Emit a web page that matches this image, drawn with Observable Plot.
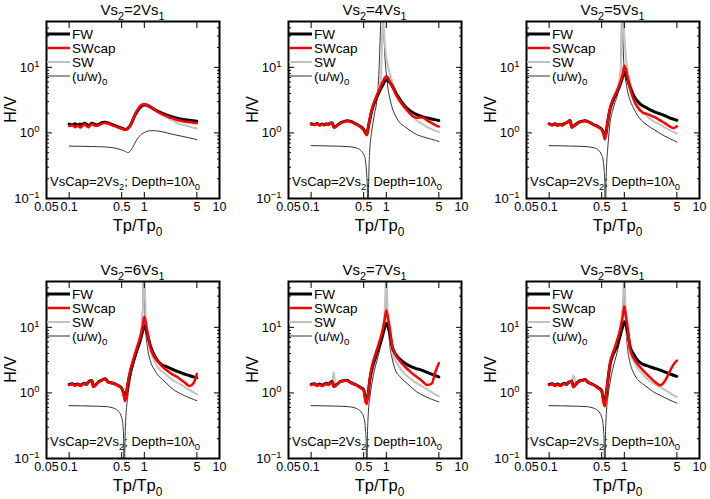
<!DOCTYPE html>
<html><head><meta charset="utf-8">
<script src="https://cdn.jsdelivr.net/npm/d3@7"></script>
<script src="https://cdn.jsdelivr.net/npm/@observablehq/plot@0.6"></script>
<style>
html,body{margin:0;padding:0;background:#fff;}
#chart{position:relative;width:710px;height:499px;overflow:hidden;background:#fff;}
#chart svg{position:absolute;overflow:visible;}
</style></head><body><div id="chart"></div>
<script>
// ---------- data ----------
const ratios = [2, 4, 5, 6, 7, 8];

const tp = [0.1,0.11,0.12,0.13,0.14,0.15,0.16,0.17,0.18,0.19,
            0.2,0.21,0.23,0.25,0.28,0.3,0.33,0.36,0.4,0.45,
            0.5,0.53,0.55,0.57,0.6,0.65,0.7,0.75,0.8,0.85,
            0.9,0.95,1.0,1.05,1.1,1.2,1.35,1.5,1.75,2,
            2.25,2.5,2.75,3,3.5,4,4.5,5];

const tpU = [0.1,0.2,0.3,0.4,0.45,0.5,0.52,0.53,0.54,0.55,
             0.56,0.57,0.58,0.6,0.65,0.7,0.75,0.8,0.84,0.87,
             0.9,0.93,0.96,0.98,1.0,1.02,1.05,1.1,1.2,1.35,
             1.5,1.75,2,2.5,3,4,5];

// Vs2 = 2Vs1
const fw_2 = [1.36,1.33,1.38,1.31,1.37,1.34,1.40,1.36,1.30,1.34,
              1.40,1.38,1.32,1.36,1.44,1.45,1.42,1.36,1.30,1.23,
              1.18,1.15,1.13,1.13,1.17,1.30,1.55,1.85,2.10,2.32,
              2.50,2.62,2.66,2.66,2.62,2.50,2.30,2.15,1.98,1.86,
              1.78,1.72,1.67,1.63,1.59,1.56,1.53,1.51];
const swcap_2 = [1.27,1.31,1.22,1.30,1.21,1.28,1.36,1.27,1.22,1.30,
                 1.37,1.33,1.27,1.32,1.40,1.42,1.39,1.33,1.27,1.21,
                 1.16,1.13,1.12,1.12,1.16,1.30,1.57,1.90,2.20,2.45,
                 2.62,2.72,2.74,2.72,2.66,2.50,2.28,2.10,1.92,1.80,
                 1.70,1.63,1.57,1.53,1.48,1.45,1.43,1.41];
const sw_2 = [1.33,1.32,1.33,1.31,1.32,1.33,1.37,1.33,1.28,1.32,
              1.38,1.36,1.31,1.34,1.42,1.44,1.41,1.35,1.29,1.22,
              1.17,1.14,1.12,1.12,1.16,1.30,1.57,1.90,2.20,2.48,
              2.68,2.78,2.80,2.76,2.68,2.50,2.25,2.05,1.84,1.70,
              1.58,1.49,1.42,1.36,1.30,1.25,1.20,1.17];
const uw_2 = [0.63,0.62,0.61,0.59,0.57,0.55,0.54,0.535,0.53,0.525,
              0.52,0.515,0.51,0.50,0.53,0.60,0.70,0.80,0.86,0.90,
              0.94,0.97,0.99,1.00,1.01,1.02,1.04,1.06,1.08,1.08,
              1.07,1.04,1.00,0.94,0.90,0.84,0.79];

// Vs2 = 4Vs1
const fw_4 = [1.38,1.34,1.39,1.32,1.37,1.33,1.38,1.35,1.41,1.43,
              1.24,1.25,1.35,1.44,1.50,1.53,1.51,1.45,1.36,1.26,
              1.13,1.00,0.95,1.15,1.55,2.30,2.95,3.55,4.15,4.80,
              5.40,6.10,6.40,6.35,6.00,5.20,4.00,3.30,2.60,2.25,
              2.05,1.92,1.84,1.77,1.69,1.63,1.58,1.55];
const swcap_4 = [1.36,1.32,1.38,1.30,1.36,1.31,1.37,1.33,1.40,1.42,
                 1.20,1.22,1.33,1.42,1.48,1.52,1.50,1.44,1.34,1.24,
                 1.10,0.98,0.92,1.15,1.60,2.40,3.10,3.80,4.50,5.30,
                 6.10,6.90,7.30,7.00,6.30,5.10,3.80,3.10,2.45,2.05,
                 1.80,1.70,1.72,1.72,1.55,1.42,1.32,1.25];
const sw_4 = [1.36,1.33,1.38,1.31,1.36,1.32,1.37,1.34,1.40,1.42,
              1.22,1.24,1.34,1.43,1.49,1.52,1.50,1.44,1.35,1.25,
              1.12,0.99,0.94,1.15,1.58,2.40,3.10,3.90,4.90,7.50,
              60,25,14,10.5,8.5,6.0,4.2,3.2,2.45,2.1,
              1.8,1.58,1.45,1.37,1.23,1.14,1.08,1.03];
const uw_4 = [0.64,0.63,0.62,0.59,0.55,0.47,0.42,0.36,0.30,0.22,
              0.13,0.01,0.12,0.50,1.20,2.00,3.20,9.00,45,150,
              60,30,14,10,8.0,6.5,4.8,3.6,2.4,1.75,
              1.45,1.25,1.12,0.95,0.88,0.80,0.74];

// Vs2 = 5Vs1
const fw_5 = [1.38,1.33,1.38,1.31,1.36,1.32,1.39,1.43,1.49,1.55,
              1.24,1.27,1.37,1.46,1.51,1.53,1.49,1.41,1.32,1.24,
              1.14,1.00,0.88,0.98,1.45,2.35,3.00,3.60,4.20,4.90,
              5.80,7.10,8.40,7.80,6.60,4.90,3.60,3.05,2.60,2.40,
              2.22,2.10,2.02,1.95,1.82,1.70,1.62,1.56];
const swcap_5 = [1.36,1.31,1.37,1.29,1.35,1.30,1.38,1.42,1.48,1.55,
                 1.20,1.25,1.36,1.45,1.50,1.52,1.48,1.40,1.31,1.22,
                 1.12,0.95,0.80,0.95,1.50,2.45,3.20,3.80,4.40,5.20,
                 6.30,7.80,10.6,9.20,7.20,4.60,3.10,2.45,2.05,1.95,
                 1.84,1.75,1.65,1.55,1.40,1.26,1.18,1.26];
const sw_5 = [1.36,1.32,1.37,1.30,1.35,1.31,1.38,1.42,1.48,1.55,
              1.22,1.26,1.36,1.45,1.50,1.52,1.48,1.40,1.31,1.23,
              1.13,0.97,0.84,0.96,1.48,2.40,3.10,3.80,4.60,6.00,
              9.5,70,30,14,9.5,5.9,3.8,2.8,2.1,1.8,
              1.6,1.48,1.40,1.33,1.20,1.10,1.03,0.98];
const uw_5 = [0.64,0.63,0.62,0.59,0.55,0.46,0.40,0.34,0.27,0.17,
              0.01,0.15,0.30,0.55,1.50,2.20,2.90,3.60,5.0,7.0,
              12,150,25,13,9.0,7.5,6.0,4.4,3.1,2.3,
              1.85,1.50,1.32,1.12,0.98,0.82,0.73];

// Vs2 = 6Vs1
const fw_6 = [1.35,1.38,1.33,1.37,1.31,1.36,1.40,1.35,1.46,1.53,
              1.55,1.26,1.36,1.49,1.59,1.64,1.47,1.43,1.39,1.30,
              1.18,1.00,0.86,0.90,1.30,2.05,2.80,3.60,4.50,5.50,
              6.80,8.80,10.6,9.50,7.80,5.30,3.80,3.10,2.65,2.50,
              2.35,2.22,2.13,2.05,1.92,1.83,1.76,1.70];
const swcap_6 = [1.31,1.36,1.29,1.35,1.28,1.34,1.38,1.33,1.45,1.52,
                 1.55,1.23,1.35,1.48,1.58,1.64,1.45,1.42,1.38,1.28,
                 1.16,0.95,0.75,0.85,1.35,2.20,3.00,3.90,5.00,6.20,
                 7.80,10.5,14.5,11.5,8.50,5.00,3.60,3.05,2.50,2.20,
                 2.00,1.85,1.75,1.62,1.42,1.27,1.40,1.95];
const sw_6 = [1.33,1.37,1.31,1.36,1.30,1.35,1.39,1.34,1.45,1.52,
              1.55,1.25,1.35,1.48,1.58,1.64,1.46,1.42,1.38,1.29,
              1.17,0.98,0.80,0.88,1.33,2.15,2.90,3.80,4.90,6.30,
              8.5,16,70,12,7.5,4.6,3.1,2.5,2.1,1.85,
              1.65,1.52,1.43,1.36,1.22,1.10,1.02,0.95];
const uw_6 = [0.64,0.63,0.62,0.58,0.53,0.42,0.32,0.22,0.01,0.12,
              0.30,0.45,0.60,0.85,1.60,2.40,3.20,4.20,5.3,6.5,
              8.5,13,30,150,40,15,8.0,5.0,3.1,2.3,
              1.90,1.60,1.38,1.10,0.98,0.84,0.76];

// Vs2 = 7Vs1
const fw_7 = [1.35,1.38,1.32,1.37,1.30,1.36,1.40,1.34,1.44,1.49,
              1.26,1.30,1.41,1.51,1.54,1.56,1.46,1.39,1.32,1.22,
              1.12,0.82,0.80,0.92,1.50,2.40,3.20,4.10,5.10,6.20,
              7.80,9.80,11.5,10.5,8.50,5.00,3.80,3.30,2.85,2.60,
              2.45,2.35,2.28,2.20,2.05,1.93,1.83,1.75];
const swcap_7 = [1.31,1.36,1.28,1.34,1.27,1.33,1.38,1.32,1.42,1.47,
                 1.23,1.28,1.40,1.50,1.53,1.55,1.45,1.38,1.31,1.20,
                 1.10,0.72,0.68,0.90,1.60,2.70,3.60,4.60,5.80,7.30,
                 9.50,13.0,18.3,14.0,10.5,5.20,3.70,3.10,2.55,2.20,
                 1.95,1.78,1.65,1.52,1.32,1.38,2.10,2.85];
const sw_7 = [1.33,1.37,1.30,1.35,1.28,1.34,1.39,1.33,1.43,1.48,
              2.08,1.29,1.40,1.50,1.53,1.55,1.45,1.38,1.31,1.21,
              1.11,0.77,0.72,0.90,1.55,2.50,3.40,4.40,5.60,7.30,
              10,17,70,13,7.5,4.2,3.0,2.45,1.95,1.72,
              1.55,1.42,1.33,1.26,1.13,1.03,0.95,0.89];
const uw_7 = [0.64,0.63,0.62,0.58,0.53,0.43,0.34,0.26,0.17,0.01,
              0.20,0.38,0.55,0.80,1.50,2.30,3.10,4.10,5.2,6.2,
              7.8,10.5,17,30,150,30,12,6.0,3.3,2.1,
              1.80,1.50,1.32,1.05,0.93,0.80,0.73];

// Vs2 = 8Vs1
const fw_8 = [1.35,1.38,1.32,1.37,1.30,1.36,1.40,1.34,1.44,1.48,
              1.52,1.25,1.39,1.51,1.56,1.60,1.46,1.39,1.31,1.20,
              1.08,0.80,0.75,0.88,1.45,2.80,3.70,4.40,5.30,6.50,
              8.20,10.2,12.2,11.0,8.80,5.00,3.80,3.15,2.75,2.60,
              2.48,2.38,2.30,2.22,2.08,1.96,1.86,1.79];
const swcap_8 = [1.31,1.36,1.28,1.34,1.27,1.33,1.38,1.32,1.42,1.46,
                 1.50,1.22,1.38,1.50,1.55,1.59,1.45,1.38,1.30,1.18,
                 1.05,0.70,0.63,0.85,1.50,3.00,4.00,5.00,6.30,8.00,
                 10.5,14.5,21.0,15.0,10.5,4.50,3.30,2.75,2.25,1.92,
                 1.68,1.50,1.38,1.31,1.55,2.10,2.70,3.10];
const sw_8 = [1.33,1.37,1.30,1.35,1.28,1.34,1.39,1.33,1.43,1.47,
              1.51,1.85,1.38,1.50,1.55,1.59,1.45,1.38,1.30,1.19,
              1.06,0.74,0.68,0.86,1.48,2.90,3.90,4.80,6.00,7.80,
              11,20,70,12,7,4.0,2.95,2.4,1.95,1.65,
              1.48,1.37,1.29,1.23,1.10,1.00,0.92,0.87];
const uw_8 = [0.64,0.63,0.62,0.58,0.53,0.43,0.34,0.26,0.17,0.01,
              0.20,0.38,0.55,0.80,1.50,2.30,3.10,4.10,5.2,6.3,
              8.0,11,18,32,150,25,10,5.0,2.8,1.95,
              1.60,1.38,1.23,1.02,0.92,0.78,0.70];

// ticks and labels
const xTicks = [0.05, 0.1, 0.5, 1, 5, 10];
const xTickLabels = ["0.05", "0.1", "0.5", "1", "5", "10"];
const yTicks = [0.1, 1, 10];
const yTickExp = ["\u22121", "0", "1"];
const yMinor = [0.2,0.3,0.4,0.5,0.6,0.7,0.8,0.9,2,3,4,5,6,7,8,9,20,30,40];
const seriesNames = ["FW", "SWcap", "SW", "(u/w)"];
const annotation = [["VsCap=2Vs"], ["2", "sub"], ["; Depth=10\u03bb"], ["0", "sub"]];

// ---------- layout ----------
const FONT = "'Liberation Sans', Arial, Helvetica, sans-serif";
const colors = {fw: "#000000", sc: "#ff0000", sw: "#c2c2c2", uw: "#333333"};
const widths = {fw: 3, sc: 2.5, sw: 2, uw: 1};
const panelLeft = [0, 242, 480, 0, 242, 480];
const panelTop = [0, 0, 0, 260, 260, 260];
const W = 228, H = 249, ML = 46, MR = 9, MT = 21, MB = 51;

const panels = [
  {k: 2, fw: fw_2, sc: swcap_2, sw: sw_2, uw: uw_2},
  {k: 4, fw: fw_4, sc: swcap_4, sw: sw_4, uw: uw_4},
  {k: 5, fw: fw_5, sc: swcap_5, sw: sw_5, uw: uw_5},
  {k: 6, fw: fw_6, sc: swcap_6, sw: sw_6, uw: uw_6},
  {k: 7, fw: fw_7, sc: swcap_7, sw: sw_7, uw: uw_7},
  {k: 8, fw: fw_8, sc: swcap_8, sw: sw_8, uw: uw_8}
];

function rich(parent, x, y, parts, size, anchor = "start", rotate = 0) {
  const t = parent.append("text").attr("x", x).attr("y", y)
    .attr("font-size", size).attr("text-anchor", anchor)
    .attr("fill", "#000").attr("font-family", FONT);
  if (rotate) t.attr("transform", `rotate(${rotate} ${x} ${y})`);
  let cur = 0;
  for (const [s, kind] of parts) {
    const shift = kind === "sub" ? size * 0.3 : 0;
    const ts = t.append("tspan").text(s);
    if (shift !== cur) ts.attr("dy", shift - cur);
    if (kind === "sub") ts.attr("font-size", size * 0.72);
    cur = shift;
  }
  return t;
}

const rows = (xs, ys) => xs.map((x, i) => ({x, y: ys[i]}));
const chart = document.getElementById("chart");

panels.forEach((p, idx) => {
  const lineOpts = (key) => ({x: "x", y: "y", stroke: colors[key], strokeWidth: widths[key],
                              clip: true, curve: "monotone-x"});
  const svg = Plot.plot({
    width: W, height: H,
    marginLeft: ML, marginRight: MR, marginTop: MT, marginBottom: MB,
    style: {fontFamily: FONT, fontSize: "13px", background: "transparent", color: "#000"},
    x: {type: "log", domain: [0.05, 10]},
    y: {type: "log", domain: [0.1, 50]},
    marks: [
      Plot.line(rows(tpU, p.uw), lineOpts("uw")),
      Plot.line(rows(tp, p.sw), lineOpts("sw")),
      Plot.line(rows(tp, p.fw), lineOpts("fw")),
      Plot.line(rows(tp, p.sc), lineOpts("sc")),
      Plot.axisX({ticks: xTicks, tickSize: -6, fill: "none", label: null}),
      Plot.text(xTicks, {x: d => d, text: (d, i) => xTickLabels[i], frameAnchor: "bottom",
                         lineAnchor: "top", dy: 4, fill: "#000", fontSize: 12.5}),
      Plot.axisX({anchor: "top", ticks: xTicks, tickSize: -6, fill: "none", label: null}),
      Plot.axisY({ticks: yTicks, tickFormat: () => "10", tickSize: -6, tickPadding: 13, label: null}),
      Plot.axisY({ticks: yMinor, tickSize: -3, fill: "none", label: null}),
      Plot.axisY({anchor: "right", ticks: yTicks, tickSize: -6, fill: "none", label: null}),
      Plot.axisY({anchor: "right", ticks: yMinor, tickSize: -3, fill: "none", label: null}),
      Plot.frame({stroke: "#000", strokeWidth: 2})
    ]
  });
  svg.style.left = panelLeft[idx] + "px";
  svg.style.top = panelTop[idx] + "px";
  chart.appendChild(svg);

  const s = d3.select(svg);
  // superscript exponents on y tick labels
  s.selectAll('g[aria-label="y-axis tick label"] text').each(function(_, j) {
    d3.select(this).append("tspan").attr("dy", -5).attr("font-size", 9.5).text(yTickExp[j]);
  });

  const cx = (ML + (W - MR)) / 2;
  const g = s.append("g");
  // title
  rich(g, cx, 15, [["Vs"], ["2", "sub"], ["=" + p.k + "Vs"], ["1", "sub"]], 15, "middle");
  // axis labels
  rich(g, cx + 5, 231, [["Tp/Tp"], ["0", "sub"]], 16.5, "middle");
  rich(g, 16, (MT + H - MB) / 2, [["H/V"]], 16, "middle", -90);
  // annotation
  rich(g, ML + 4, 186, annotation, 13, "start");
  // legend
  const keys = ["fw", "sc", "sw", "uw"];
  keys.forEach((key, i) => {
    const y = 34 + 14 * i;
    g.append("line").attr("x1", ML + 1).attr("x2", ML + 24).attr("y1", y).attr("y2", y)
      .attr("stroke", colors[key]).attr("stroke-width", widths[key]);
    const parts = key === "uw" ? [[seriesNames[i]], ["0", "sub"]] : [[seriesNames[i]]];
    rich(g, ML + 26, y + 4.8, parts, 13.5, "start");
  });
});
</script>
</body></html>
